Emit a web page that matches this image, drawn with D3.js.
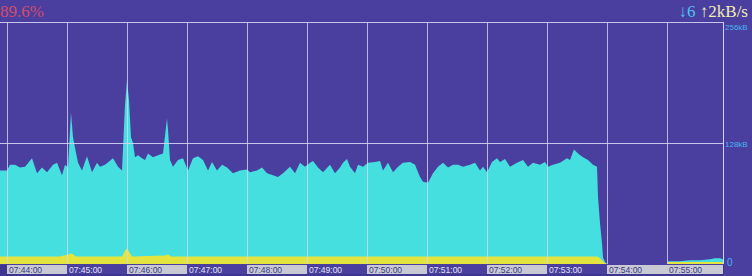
<!DOCTYPE html>
<html>
<head>
<meta charset="utf-8">
<script src="https://cdn.jsdelivr.net/npm/d3@7"></script>
<style>
  body { margin: 0; background: #3b3288; }
  svg { display: block; }
</style>
</head>
<body>
<div id="chart"></div>
<script>
// time window and minute labels
var startTime = "07:43:53";
var endTime = "07:55:56";
var tickLabels = ["07:44:00", "07:45:00", "07:46:00", "07:47:00", "07:48:00", "07:49:00",
  "07:50:00", "07:51:00", "07:52:00", "07:53:00", "07:54:00", "07:55:00"];
var yTickLabels = ["256kB", "128kB", "0"];
var yTickValues = [256, 128, 0];

// download rate (kB/s), seconds after start
var downSecs = [0, 3, 7, 10, 15, 20, 25, 32, 37, 42, 47, 53, 57, 62, 65, 68, 71, 73, 75, 78,
  82, 87, 92, 97, 100, 105, 113, 118, 122, 125, 127, 129, 131, 133, 135, 138, 142, 145, 148, 153,
  158, 163, 167, 168, 170, 173, 178, 183, 188, 193, 198, 203, 208, 212, 217, 222, 227, 233, 240, 247,
  250, 257, 262, 267, 273, 278, 283, 290, 295, 300, 305, 310, 313, 318, 323, 330, 335, 340, 343, 347,
  350, 355, 358, 363, 368, 375, 380, 383, 388, 393, 398, 403, 410, 415, 420, 423, 428, 433, 438, 443,
  448, 453, 458, 463, 470, 475, 480, 483, 487, 492, 497, 500, 505, 510, 517, 523, 528, 533, 540, 545,
  548, 553, 560, 567, 570, 574, 578, 583, 588, 593, 597, 598, 600, 602, 603, 605, 607, 667, 668, 680,
  690, 700, 710, 715, 720, 723];
var downKB = [99, 99, 99, 105, 105, 102, 103, 112, 96, 102, 97, 105, 107, 94, 105, 102, 160, 134, 123, 107,
  99, 114, 97, 107, 103, 105, 112, 103, 99, 168, 195, 173, 134, 128, 113, 115, 112, 110, 117, 113,
  115, 117, 154, 142, 110, 103, 110, 112, 99, 112, 114, 110, 99, 108, 99, 105, 102, 96, 99, 100,
  97, 99, 102, 96, 94, 92, 96, 103, 96, 107, 103, 107, 109, 102, 97, 105, 96, 102, 107, 111,
  103, 96, 105, 103, 107, 108, 109, 99, 107, 97, 103, 107, 108, 105, 92, 87, 86, 96, 103, 107,
  102, 105, 105, 103, 105, 107, 99, 103, 97, 108, 112, 108, 111, 103, 107, 110, 103, 107, 105, 108,
  103, 105, 107, 112, 110, 121, 117, 113, 110, 105, 103, 71, 43, 22, 7, 2, 0, 0, 3, 3,
  4, 4, 5, 6, 6, 5];

// upload rate (kB/s)
var upSecs = [0, 60, 68, 72, 76, 122, 125, 127, 129, 132, 165, 168, 171, 300, 400, 500, 597, 600, 603, 605,
  607, 667, 668, 723];
var upKB = [8, 8, 10, 11, 8, 8, 14, 17, 13, 8, 9, 10, 8, 8, 8, 8, 8, 6, 3, 1,
  0, 0, 2, 2];

var W = 752, H = 276;
var plot = { left: 0, right: 723, top: 22, bottom: 264 };

var parse = d3.timeParse("%H:%M:%S");
var t0 = parse(startTime);
function at(s) { return new Date(t0.getTime() + s * 1000); }

var x = d3.scaleTime()
  .domain([t0, parse(endTime)])
  .range([plot.left, plot.right]);

var y = d3.scaleLinear()
  .domain([0, 256])
  .range([plot.bottom, plot.top]);

var svg = d3.select("#chart")
  .append("svg")
  .attr("width", W)
  .attr("height", H);

// background
svg.append("rect")
  .attr("width", W).attr("height", H)
  .attr("fill", "#4a3f9f");

svg.append("clipPath").attr("id", "clip")
  .append("rect")
  .attr("x", plot.left).attr("y", plot.top)
  .attr("width", plot.right - plot.left).attr("height", plot.bottom - plot.top);

var down = downSecs.map(function(s, i) { return { t: at(s), v: downKB[i] }; });
var up = upSecs.map(function(s, i) { return { t: at(s), v: upKB[i] }; });

var area = d3.area()
  .x(function(d) { return x(d.t); })
  .y0(y(0))
  .y1(function(d) { return y(d.v); });

var g = svg.append("g").attr("clip-path", "url(#clip)");

g.append("path")
  .datum(down)
  .attr("d", area)
  .attr("fill", "#45dfdf");

g.append("path")
  .datum(up)
  .attr("d", area)
  .attr("fill", "#e4e43e");

// grid
var ticks = tickLabels.map(function(s) { return parse(s); });

svg.append("g")
  .attr("class", "grid")
  .attr("transform", "translate(0," + plot.bottom + ")")
  .call(d3.axisBottom(x).tickValues(ticks).tickSize(-(plot.bottom - plot.top)).tickFormat(""))
  .call(function(a) { a.select(".domain").remove(); })
  .selectAll("line")
  .attr("stroke", "#d4d4f4")
  .attr("stroke-opacity", 0.8);

svg.append("g")
  .attr("class", "grid")
  .attr("transform", "translate(" + plot.right + ",0)")
  .call(d3.axisLeft(y).tickValues([256, 128]).tickSize(plot.right - plot.left).tickFormat(""))
  .call(function(a) { a.select(".domain").remove(); })
  .selectAll("line")
  .attr("stroke", "#d4d4f4")
  .attr("stroke-opacity", 0.9);

svg.append("line")
  .attr("x1", plot.right + 0.5).attr("x2", plot.right + 0.5)
  .attr("y1", plot.top).attr("y2", plot.bottom)
  .attr("stroke", "#d4d4f4");

// time strip
var strip = svg.append("g");
strip.append("rect")
  .attr("x", 0).attr("y", plot.bottom + 1)
  .attr("width", W).attr("height", H - plot.bottom - 1)
  .attr("fill", "#3e3590");
strip.append("rect")
  .attr("x", plot.right + 1).attr("y", plot.bottom - 20)
  .attr("width", W - plot.right).attr("height", H - plot.bottom + 20)
  .attr("fill", "#4a3f9f");

var bands = strip.selectAll(".band")
  .data(ticks)
  .enter().append("g")
  .attr("class", "band");

function light(i) { return i % 2 === 0 || i === ticks.length - 1; }

bands.append("rect")
  .attr("x", function(d) { return x(d); })
  .attr("y", plot.bottom + 1)
  .attr("width", function(d, i) {
    var next = i < ticks.length - 1 ? x(ticks[i + 1]) : plot.right;
    return next - x(d);
  })
  .attr("height", 9)
  .attr("fill", function(d, i) { return light(i) ? "#c9c9d3" : "#4a3f9f"; });

bands.append("text")
  .attr("x", function(d) { return x(d) + 2; })
  .attr("y", plot.bottom + 8.5)
  .style("font-family", "Liberation Sans, Arial, sans-serif")
  .style("font-size", "8.5px")
  .style("fill", function(d, i) { return light(i) ? "#3a3a86" : "#e4e4f4"; })
  .text(function(d, i) { return tickLabels[i]; });

// right axis labels
svg.selectAll(".ylab")
  .data(yTickValues)
  .enter().append("text")
  .attr("class", "ylab")
  .attr("x", function(d) { return plot.right + (d === 0 ? 4 : 2); })
  .attr("y", function(d) { return d === 256 ? y(d) + 8 : (d === 0 ? y(d) + 2 : y(d) + 4); })
  .style("font-family", "Liberation Sans, Arial, sans-serif")
  .style("font-size", function(d) { return d === 0 ? "10px" : "8px"; })
  .style("fill", "#46b4f2")
  .text(function(d, i) { return yTickLabels[i]; });

// headline figures
svg.append("text")
  .attr("x", 0)
  .attr("y", 17)
  .style("font-family", "Liberation Serif, Times New Roman, serif")
  .style("font-size", "17px")
  .style("fill", "#d24c6c")
  .text("89.6%");

var rate = svg.append("text")
  .attr("x", 748)
  .attr("y", 17)
  .attr("text-anchor", "end")
  .style("font-family", "Liberation Serif, Times New Roman, serif")
  .style("font-size", "17px");
rate.append("tspan").style("fill", "#4cc4f4").text("↓6 ");
rate.append("tspan").style("fill", "#f0eeb0").text("↑2kB/s");
</script>
</body>
</html>
